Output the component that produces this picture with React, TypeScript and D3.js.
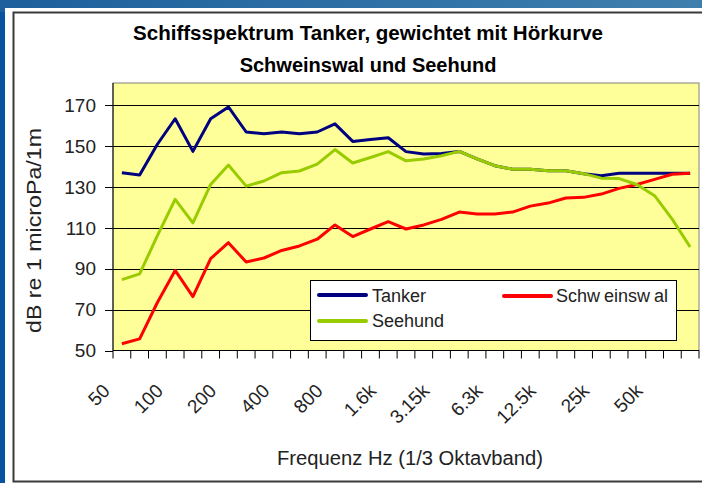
import React from "react";
import * as d3 from "d3";

// 1/3 Oktavband Mittenfrequenzen
const categories = [
  "50", "63", "80", "100", "125", "160", "200", "250", "315", "400", "500",
  "630", "800", "1k", "1.25k", "1.6k", "2k", "2.5k", "3.15k", "4k", "5k",
  "6.3k", "8k", "10k", "12.5k", "16k", "20k", "25k", "31.5k", "40k", "50k",
  "63k", "80k",
];

const tanker = [
  137, 136, 151, 163.5, 147.5, 163.5, 169.3, 157, 156.2, 157, 156.2, 157, 161,
  152.4, 153.3, 154.2, 147.4, 146.2, 146.5, 147.5, 143.8, 140.5, 138.8, 138.8,
  138, 138, 136.6, 135.6, 136.8, 136.8, 136.8, 136.8, 136.8,
];
const schweinswal = [
  53.3, 55.7, 73.5, 89.2, 76.4, 95, 102.8, 93.3, 95.3, 99, 101.2, 104.5, 111.5,
  105.8, 109.5, 113.1, 109.5, 111.5, 114.2, 117.8, 116.9, 116.9, 117.8, 120.7,
  122.2, 124.7, 125, 126.6, 129.4, 131.3, 133.8, 136.3, 136.8,
];
const seehund = [
  84.7, 87.5, 106.2, 124, 112.5, 131.3, 140.8, 130.5, 133, 137.1, 137.9, 141.3,
  148.4, 141.8, 144.5, 147.4, 142.9, 143.8, 145.4, 147.5, 143.8, 140.5, 138.8,
  138.8, 138, 138, 136.6, 134.4, 134.2, 131.3, 125.8, 114.2, 100.7,
];

const yTicks = [50, 70, 90, 110, 130, 150, 170];
const xTickLabels = ["50", "100", "200", "400", "800", "1.6k", "3.15k", "6.3k", "12.5k", "25k", "50k"];

const FONT = "'Liberation Sans', Arial, sans-serif";

export default function App() {
  const W = 702;
  const H = 483;
  const left = 113, right = 699, top = 83, bottom = 350.5;

  const x = d3.scaleBand<string>().domain(categories).range([left, right]).padding(0);
  const y = d3.scaleLinear().domain([50, 181]).range([bottom, top]);
  const cx = (i: number) => (x(categories[i]) as number) + x.bandwidth() / 2;

  const line = d3
    .line<number>()
    .x((_, i) => cx(i))
    .y((d) => y(d));

  const series = [
    { name: "Tanker", values: tanker, color: "#000080" },
    { name: "Schweinswal", values: schweinswal, color: "#ff0000" },
    { name: "Seehund", values: seehund, color: "#99cc00" },
  ];

  // band edges for x ticks
  const edges = categories.map((c) => x(c) as number).concat([right]);

  return (
    <svg
      width={W}
      height={H}
      style={{ position: "absolute", left: 0, top: 0, display: "block" }}
      fontFamily={FONT}
    >
      <defs>
        <linearGradient id="bg" x1="0" y1="0" x2="1" y2="1">
          <stop offset="0" stopColor="#1d5f9c" />
          <stop offset="0.5" stopColor="#3f7fae" />
          <stop offset="1" stopColor="#0a4f98" />
        </linearGradient>
      </defs>
      <rect x={0} y={0} width={W} height={H} fill="url(#bg)" />
      <rect x={0} y={12} width={5} height={H} fill="#0852a0" />
      <rect x={5} y={8} width={W - 5} height={H - 8} fill="#ffffff" />
      <rect x={13.5} y={12.5} width={W} height={469} fill="none" stroke="#3a3a3a" strokeWidth={2} />

      {/* Titel */}
      <text x={368} y={40} textAnchor="middle" fontWeight="bold" fontSize={20} fill="#000" textLength={470} lengthAdjust="spacingAndGlyphs">
        Schiffsspektrum Tanker, gewichtet mit Hörkurve
      </text>
      <text x={368} y={72} textAnchor="middle" fontWeight="bold" fontSize={20} fill="#000">
        Schweinswal und Seehund
      </text>

      {/* Plotfläche */}
      <rect x={left} y={top} width={right - left} height={bottom - top} fill="#ffff99" stroke="#808080" strokeWidth={1} />

      {yTicks.filter((t) => t > 50).map((t) => (
        <line key={t} x1={left} x2={right} y1={Math.round(y(t)) + 0.5} y2={Math.round(y(t)) + 0.5} stroke="#000" strokeWidth={1} />
      ))}

      {/* y Achse */}
      <line x1={left} x2={left} y1={top} y2={bottom} stroke="#000" />
      {yTicks.map((t) => (
        <g key={t}>
          <line x1={left - 8} x2={left} y1={Math.round(y(t)) + 0.5} y2={Math.round(y(t)) + 0.5} stroke="#000" />
          <text x={96} y={y(t)} dy="0.35em" textAnchor="end" fontSize={19} fill="#222">
            {t}
          </text>
        </g>
      ))}
      <text
        transform={`translate(41, 230.5) rotate(-90)`}
        textAnchor="middle"
        fontSize={20}
        fill="#222"
        textLength={205}
        lengthAdjust="spacingAndGlyphs"
      >
        dB re 1 microPa/1m
      </text>

      {/* x Achse */}
      <line x1={left} x2={right} y1={bottom} y2={bottom} stroke="#000" />
      {edges.map((e, i) => (
        <line key={i} x1={e} x2={e} y1={bottom} y2={bottom + 8} stroke="#000" />
      ))}
      {xTickLabels.map((lab) => (
        <text
          key={lab}
          transform={`translate(${(x(lab) as number) + x.bandwidth() / 2 - 11}, 392) rotate(-45)`}
          textAnchor="end"
          fontSize={19}
          fill="#222"
        >
          {lab}
        </text>
      ))}
      <text x={410} y={465} textAnchor="middle" fontSize={20} fill="#222" textLength={266} lengthAdjust="spacingAndGlyphs">
        Frequenz Hz (1/3 Oktavband)
      </text>

      {/* Linien */}
      {series.map((s) => (
        <path key={s.name} d={line(s.values) || ""} fill="none" stroke={s.color} strokeWidth={3} strokeLinejoin="round" />
      ))}

      {/* Legende */}
      <rect x={310.5} y={280.5} width={366} height={60} fill="#fff" stroke="#000" strokeWidth={1} />
      <line x1={319} x2={366} y1={295} y2={295} stroke="#000080" strokeWidth={4} strokeLinecap="round" />
      <text x={372} y={302} fontSize={18} fill="#222">Tanker</text>
      <line x1={504} x2={551} y1={296} y2={296} stroke="#ff0000" strokeWidth={4} strokeLinecap="round" />
      <text x={556} y={302} fontSize={18} fill="#222">
        <tspan>Schw</tspan>
        <tspan dx={4}>einsw</tspan>
        <tspan dx={4}>al</tspan>
      </text>
      <line x1={319} x2={366} y1={321} y2={321} stroke="#99cc00" strokeWidth={4} strokeLinecap="round" />
      <text x={372} y={327} fontSize={18} fill="#222">Seehund</text>
    </svg>
  );
}
